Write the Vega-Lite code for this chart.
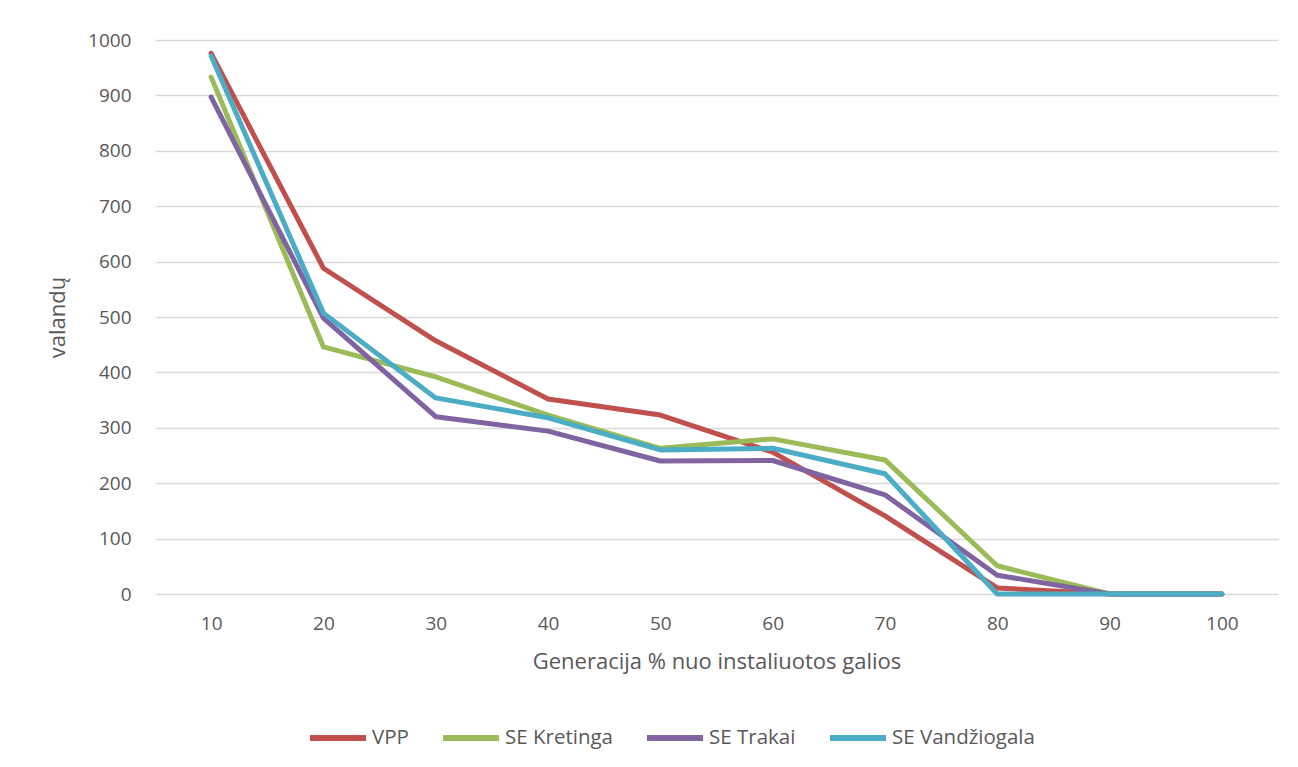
{
  "$schema": "https://vega.github.io/schema/vega-lite/v6.json",
  "width": 1123,
  "height": 554,
  "autosize": {"type": "none"},
  "padding": {"left": 155, "top": 40, "right": 20, "bottom": 173},
  "background": "white",
  "config": {
    "font": "Open Sans",
    "view": {"stroke": null},
    "axis": {"labelFont": "Open Sans", "titleFont": "Open Sans", "labelColor": "#595959", "titleColor": "#595959", "labelFontSize": 19, "titleFontSize": 22, "titleFontWeight": "normal"}
  },
  "data": {
    "values": [
      {"x": 10, "s": "VPP", "v": 976}, {"x": 20, "s": "VPP", "v": 588}, {"x": 30, "s": "VPP", "v": 457}, {"x": 40, "s": "VPP", "v": 352}, {"x": 50, "s": "VPP", "v": 323}, {"x": 60, "s": "VPP", "v": 256}, {"x": 70, "s": "VPP", "v": 141}, {"x": 80, "s": "VPP", "v": 11}, {"x": 90, "s": "VPP", "v": 0}, {"x": 100, "s": "VPP", "v": 0},
      {"x": 10, "s": "SE Kretinga", "v": 933}, {"x": 20, "s": "SE Kretinga", "v": 446}, {"x": 30, "s": "SE Kretinga", "v": 392}, {"x": 40, "s": "SE Kretinga", "v": 323}, {"x": 50, "s": "SE Kretinga", "v": 263}, {"x": 60, "s": "SE Kretinga", "v": 280}, {"x": 70, "s": "SE Kretinga", "v": 242}, {"x": 80, "s": "SE Kretinga", "v": 51}, {"x": 90, "s": "SE Kretinga", "v": 0}, {"x": 100, "s": "SE Kretinga", "v": 0},
      {"x": 10, "s": "SE Trakai", "v": 897}, {"x": 20, "s": "SE Trakai", "v": 498}, {"x": 30, "s": "SE Trakai", "v": 320}, {"x": 40, "s": "SE Trakai", "v": 294}, {"x": 50, "s": "SE Trakai", "v": 240}, {"x": 60, "s": "SE Trakai", "v": 241}, {"x": 70, "s": "SE Trakai", "v": 179}, {"x": 80, "s": "SE Trakai", "v": 34}, {"x": 90, "s": "SE Trakai", "v": 0}, {"x": 100, "s": "SE Trakai", "v": 0},
      {"x": 10, "s": "SE Vandžiogala", "v": 971}, {"x": 20, "s": "SE Vandžiogala", "v": 507}, {"x": 30, "s": "SE Vandžiogala", "v": 354}, {"x": 40, "s": "SE Vandžiogala", "v": 318}, {"x": 50, "s": "SE Vandžiogala", "v": 260}, {"x": 60, "s": "SE Vandžiogala", "v": 263}, {"x": 70, "s": "SE Vandžiogala", "v": 217}, {"x": 80, "s": "SE Vandžiogala", "v": 0}, {"x": 90, "s": "SE Vandžiogala", "v": 0}, {"x": 100, "s": "SE Vandžiogala", "v": 0}
    ]
  },
  "mark": {"type": "line", "strokeWidth": 5, "strokeCap": "round", "strokeJoin": "round"},
  "encoding": {
    "x": {
      "field": "x", "type": "ordinal", "sort": null,
      "scale": {"type": "point", "padding": 0.5},
      "axis": {"title": "Generacija % nuo instaliuotos galios", "labelAngle": 0, "ticks": false, "domain": false, "grid": false, "labelPadding": 20, "titlePadding": 18}
    },
    "y": {
      "field": "v", "type": "quantitative",
      "scale": {"domain": [0, 1000]},
      "axis": {"title": "valandų", "format": "d", "values": [0,100,200,300,400,500,600,700,800,900,1000], "ticks": false, "domain": false, "gridColor": "#d9d9d9", "gridWidth": 1.5, "labelPadding": 24, "titlePadding": 18}
    },
    "color": {
      "field": "s", "type": "nominal", "sort": ["VPP", "SE Kretinga", "SE Trakai", "SE Vandžiogala"],
      "scale": {"domain": ["VPP", "SE Kretinga", "SE Trakai", "SE Vandžiogala"], "range": ["#c0504d", "#9bbb59", "#8064a2", "#4bacc6"]},
      "legend": {"title": null, "orient": "none", "direction": "horizontal", "legendX": 152, "legendY": 667, "symbolType": "stroke", "symbolSize": 3136, "symbolStrokeWidth": 6, "labelFontSize": 20.5, "labelFont": "Open Sans", "labelColor": "#595959", "labelOffset": 3, "columnPadding": 22}
    },
    "order": {"field": "x"}
  }
}
